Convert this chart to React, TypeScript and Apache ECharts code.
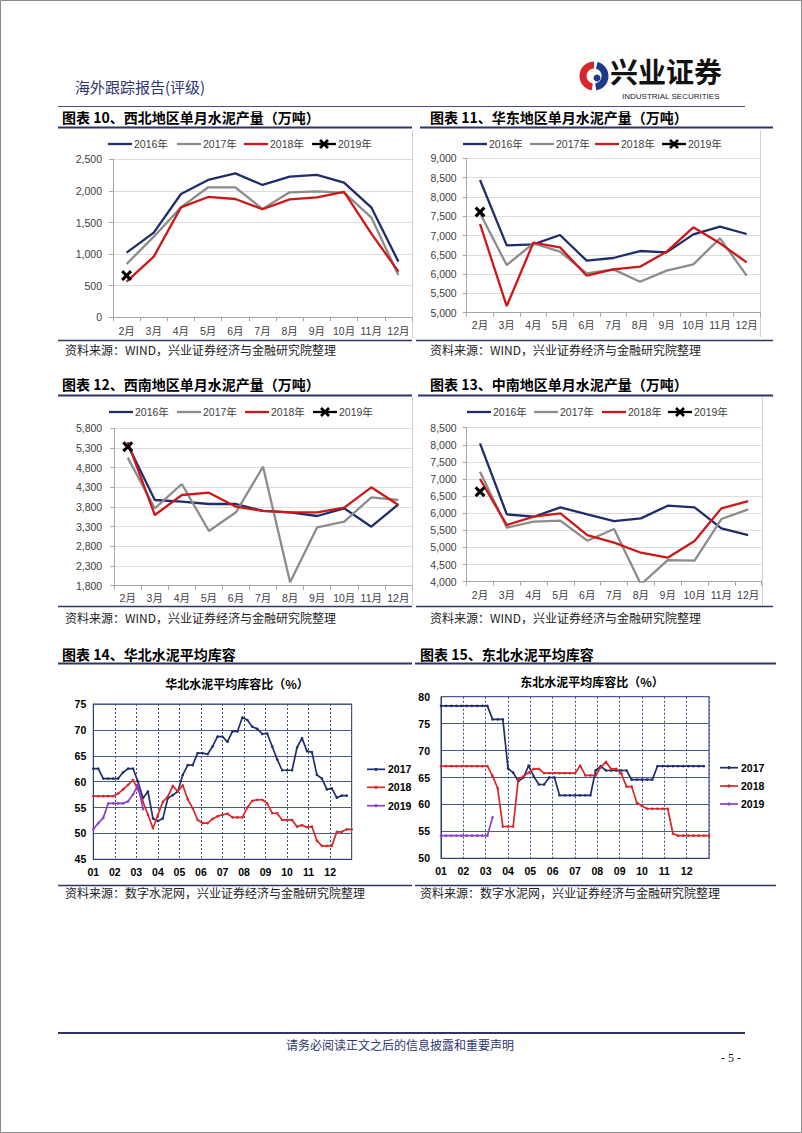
import React, { useEffect, useRef } from "react";
import * as echarts from "echarts";

// ---------- DATA ----------
const months = ["2月", "3月", "4月", "5月", "6月", "7月", "8月", "9月", "10月", "11月", "12月"];
const yearNames = ["2016年", "2017年", "2018年", "2019年"];

// 图表10 西北
const nw2016 = [1023, 1340, 1951, 2173, 2278, 2094, 2226, 2252, 2131, 1740, 881];
const nw2017 = [844, 1276, 1740, 2057, 2057, 1714, 1978, 1994, 1973, 1582, 670];
const nw2018 = [564, 960, 1740, 1904, 1872, 1709, 1867, 1899, 1983, 1329, 723];
const nw2019 = [660];

// 图表11 华东
const ec2016 = [8438, 6745, 6771, 7013, 6348, 6417, 6598, 6564, 7030, 7229, 7039];
const ec2017 = [7575, 6235, 6797, 6581, 6019, 6123, 5803, 6089, 6253, 6927, 5959];
const ec2018 = [7298, 5173, 6814, 6693, 5959, 6123, 6192, 6581, 7212, 6797, 6305];
const ec2019 = [7610];

// 图表12 西南
const sw2016 = [5380, 3978, 3935, 3876, 3876, 3700, 3665, 3571, 3766, 3300, 3868];
const sw2017 = [5054, 3766, 4385, 3190, 3665, 4825, 1885, 3283, 3427, 4046, 3978];
const sw2018 = [5450, 3597, 4105, 4164, 3808, 3700, 3665, 3665, 3783, 4300, 3850];
const sw2019 = [5330];

// 图表13 中南
const cs2016 = [8042, 5967, 5899, 6172, 5967, 5773, 5851, 6221, 6172, 5558, 5364];
const cs2017 = [7214, 5578, 5753, 5782, 5198, 5539, 3920, 4633, 4614, 5831, 6114];
const cs2018 = [7000, 5656, 5899, 5997, 5364, 5140, 4847, 4701, 5188, 6143, 6357];
const cs2019 = [6630];

// 图表14 华北 weekly inventory ratio (%)
const monthTicks = ["01", "02", "03", "04", "05", "06", "07", "08", "09", "10", "11", "12"];
const pctNames = ["2017", "2018", "2019"];
const WEEKS = 52;
const nc2017 = [
  62.5, 62.5, 60.6, 60.6, 60.6, 60.6, 61.8, 62.5, 62.5, 60.0,
  56.8, 58.1, 52.9, 52.4, 52.9, 56.8, 57.4, 58.1, 61.3, 63.2,
  63.2, 65.5, 65.5, 65.3, 66.8, 68.7, 68.7, 67.7, 69.7, 69.7,
  72.4, 71.9, 70.6, 70.2, 69.2, 69.3, 66.8, 64.3, 62.2, 62.2,
  62.2, 66.6, 68.4, 65.9, 65.7, 61.3, 60.6, 58.5, 58.7, 56.9,
  57.3, 57.3,
];
const nc2018 = [
  57.2, 57.2, 57.2, 57.2, 57.2, 57.7, 58.5, 59.4, 60.3, 58.5,
  56.1, 53.6, 51.0, 53.6, 56.1, 57.1, 59.2, 58.1, 59.3, 56.6,
  54.9, 52.6, 52.0, 52.0, 52.8, 53.3, 53.6, 53.8, 53.1, 53.1,
  53.1, 55.0, 56.3, 56.5, 56.5, 55.8, 53.9, 53.9, 52.6, 52.6,
  52.6, 51.3, 51.6, 51.2, 51.3, 48.6, 47.6, 47.6, 47.6, 50.3,
  50.3, 50.8, 50.8,
];
const nc2019 = [50.8, 52.0, 53.0, 55.8, 55.8, 55.8, 55.8, 56.2, 57.5, 59.4, 54.7];

// 图表15 东北 weekly inventory ratio (%)
const ne2017 = [
  78.3, 78.3, 78.3, 78.3, 78.3, 78.3, 78.3, 78.3, 78.3, 78.3,
  75.8, 75.8, 75.8, 66.7, 65.9, 64.3, 65.0, 67.2, 65.2, 63.7,
  63.7, 65.0, 65.0, 61.7, 61.7, 61.7, 61.7, 61.7, 61.7, 61.7,
  66.3, 67.1, 66.3, 66.3, 66.3, 66.3, 66.3, 64.6, 64.6, 64.6,
  64.6, 64.6, 67.1, 67.1, 67.1, 67.1, 67.1, 67.1, 67.1, 67.1,
  67.1, 67.1,
];
const ne2018 = [
  67.1, 67.1, 67.1, 67.1, 67.1, 67.1, 67.1, 67.1, 67.1, 67.1,
  65.3, 63.0, 55.9, 55.9, 55.9, 64.7, 65.2, 65.9, 66.6, 66.6,
  65.8, 65.8, 65.8, 65.8, 65.8, 65.8, 65.8, 67.2, 65.4, 65.4,
  65.4, 66.9, 67.9, 66.6, 66.6, 65.7, 63.3, 63.3, 60.3, 59.7,
  59.2, 59.2, 59.2, 59.2, 59.2, 54.6, 54.2, 54.2, 54.2, 54.2,
  54.2, 54.2, 54.2,
];
const ne2019 = [54.2, 54.2, 54.2, 54.2, 54.2, 54.2, 54.2, 54.2, 54.2, 54.2, 57.6];

// ---------- STYLE ----------
const SANS = '"Liberation Sans", Arial, "Noto Sans CJK SC", sans-serif';
const CJK = '"Noto Sans CJK SC", "Noto Sans CJK JP", sans-serif';
const NAVY = "#2e3566";
const YEAR_COLORS = ["#1f2d6b", "#8c8c8c", "#cc1818", "#000000"];
const PCT_COLORS = ["#1f2f6e", "#d92626", "#8b3fcf"];
const XPATH = "path://M0,2 L2,0 L5,3 L8,0 L10,2 L7,5 L10,8 L8,10 L5,7 L2,10 L0,8 L3,5 Z";

function catX(gi: number, margin: number) {
  return {
    type: "category",
    gridIndex: gi,
    data: months,
    boundaryGap: true,
    axisLine: { show: true, lineStyle: { color: "#a6a6a6", width: 1 } },
    axisTick: { show: true, length: 4, lineStyle: { color: "#a6a6a6" } },
    axisLabel: { interval: 0, color: "#404040", fontSize: 10.5, fontFamily: SANS, margin },
    splitLine: { show: false },
  };
}

function valY(gi: number, min: number, max: number, interval: number, margin: number) {
  return {
    type: "value",
    gridIndex: gi,
    min,
    max,
    interval,
    axisLine: { show: true, lineStyle: { color: "#a6a6a6", width: 1 } },
    axisTick: { show: true, length: 4, lineStyle: { color: "#a6a6a6" } },
    splitLine: { show: true, lineStyle: { color: "#dcdcdc", width: 1 } },
    axisLabel: {
      color: "#404040",
      fontSize: 10.5,
      fontFamily: SANS,
      margin,
      formatter: (v: number) => v.toLocaleString("en-US"),
    },
  };
}

function yearSeries(gi: number, sets: number[][]) {
  const out: any[] = [];
  for (let k = 0; k < 3; k++) {
    out.push({
      type: "line",
      name: yearNames[k],
      xAxisIndex: gi,
      yAxisIndex: gi,
      data: sets[k],
      symbol: "none",
      lineStyle: { color: YEAR_COLORS[k], width: 2.3 },
      itemStyle: { color: YEAR_COLORS[k] },
      z: 2 + k,
    });
  }
  out.push({
    type: "line",
    name: yearNames[3],
    xAxisIndex: gi,
    yAxisIndex: gi,
    data: sets[3],
    symbol: XPATH,
    symbolSize: 11,
    lineStyle: { color: "#000", width: 2.3 },
    itemStyle: { color: "#000" },
    z: 6,
  });
  return out;
}

function weekX(gi: number, margin: number) {
  return {
    type: "value",
    gridIndex: gi,
    min: 0,
    max: 12,
    interval: 1,
    axisLine: { show: true, lineStyle: { color: "#2b3a7a", width: 1 } },
    axisTick: { show: false },
    splitLine: { show: true, lineStyle: { color: "#3a4a88", type: [2, 2], width: 1 } },
    axisLabel: {
      color: "#000",
      fontSize: 10.5,
      fontWeight: "bold",
      fontFamily: SANS,
      margin,
      formatter: (v: number) => monthTicks[Math.round(v)] ?? "",
    },
  };
}

function pctY(gi: number, min: number, max: number, margin: number) {
  return {
    type: "value",
    gridIndex: gi,
    min,
    max,
    interval: 5,
    axisLine: { show: true, lineStyle: { color: "#2b3a7a", width: 1 } },
    axisTick: { show: false },
    splitLine: { show: true, lineStyle: { color: "#4b5a90", width: 1 } },
    axisLabel: { color: "#000", fontSize: 10.5, fontWeight: "bold", fontFamily: SANS, margin },
  };
}

function weekSeries(gi: number, k: number, vals: number[]) {
  const color = PCT_COLORS[k];
  return {
    type: "line",
    name: pctNames[k],
    xAxisIndex: gi,
    yAxisIndex: gi,
    data: vals.map((v, i) => [(i * 12) / WEEKS, v]),
    symbol: "circle",
    symbolSize: 2.6,
    lineStyle: { color, width: 1.7 },
    itemStyle: { color },
    z: 3 + k,
  };
}

// ---------- graphic helpers ----------
function txt(text: string, x: number, y: number, font: string, fill = "#000", align = "left") {
  return {
    type: "text",
    x,
    y,
    silent: true,
    style: {
      text,
      font,
      fill,
      textAlign: align,
      textVerticalAlign: "middle",
      align,
      verticalAlign: "middle",
    },
  };
}
function ln(x1: number, y1: number, x2: number, y2: number, stroke: string, w: number) {
  return { type: "line", silent: true, shape: { x1, y1, x2, y2 }, style: { stroke, lineWidth: w } };
}

function yearLegend(xs: number[], y: number) {
  const els: any[] = [];
  xs.forEach((x, k) => {
    els.push(ln(x, y, x + 24, y, YEAR_COLORS[k], 2.3));
    if (k === 3) {
      const cx = x + 12;
      els.push(ln(cx - 4, y - 4, cx + 4, y + 4, "#000", 2.6));
      els.push(ln(cx - 4, y + 4, cx + 4, y - 4, "#000", 2.6));
    }
    els.push(txt(yearNames[k], x + 26, y, `10.5px ${SANS}`, "#404040"));
  });
  return els;
}

function pctLegend(x: number, ys: number[]) {
  const els: any[] = [];
  ys.forEach((y, k) => {
    els.push(ln(x, y, x + 18, y, PCT_COLORS[k], 1.7));
    els.push({ type: "circle", silent: true, shape: { cx: x + 9, cy: y, r: 1.6 }, style: { fill: PCT_COLORS[k] } });
    els.push(txt(pctNames[k], x + 21, y, `bold 10.5px ${SANS}`, "#000"));
  });
  return els;
}

function buildGraphic() {
  const titleFont = `bold 14px ${CJK}`;
  const srcFont = `12px ${CJK}`;
  const src1 = "资料来源：WIND，兴业证券经济与金融研究院整理";
  const src2 = "资料来源：数字水泥网，兴业证券经济与金融研究院整理";
  const els: any[] = [
    { type: "rect", silent: true, shape: { x: 0.5, y: 0.5, width: 801, height: 1132 }, style: { fill: "none", stroke: "#8a8a8a", lineWidth: 1 } },
    // header
    txt("海外跟踪报告(评级)", 75, 86, `15px ${CJK}`, "#2b3570"),
    { type: "arc", silent: true, shape: { cx: 594, cy: 76, r: 11, startAngle: Math.PI * 0.55, endAngle: Math.PI * 1.5, clockwise: true }, style: { stroke: "#d7262c", lineWidth: 7, fill: "none" } },
    { type: "arc", silent: true, shape: { cx: 594, cy: 76, r: 11, startAngle: -Math.PI * 0.42, endAngle: Math.PI * 0.45, clockwise: true }, style: { stroke: "#1f3a8a", lineWidth: 7, fill: "none" } },
    { type: "circle", silent: true, shape: { cx: 597, cy: 78, r: 3.5 }, style: { fill: "#1f3a8a" } },
    txt("兴业证券", 610, 71, `bold 28px ${CJK}`, "#111"),
    txt("INDUSTRIAL SECURITIES", 622, 96, `8px "Liberation Sans", Arial, sans-serif`, "#222"),
    ln(58, 106.5, 745, 106.5, "#4a4f7a", 1.2),
    // row 1 titles
    txt("图表 10、西北地区单月水泥产量（万吨）", 62, 117, titleFont),
    txt("图表 11、华东地区单月水泥产量（万吨）", 430, 117, titleFont),
    ln(58, 127.5, 412, 127.5, NAVY, 2),
    ln(420, 127.5, 773, 127.5, NAVY, 2),
    ln(412.5, 130, 412.5, 338, "#d0d0d0", 1),
    ln(760.5, 130, 760.5, 337, "#d0d0d0", 1),
    ln(58, 340.5, 412, 340.5, NAVY, 1.5),
    ln(416, 340.5, 773, 340.5, NAVY, 1.5),
    txt(src1, 65, 349, srcFont, "#222"),
    txt(src1, 430, 349, srcFont, "#222"),
    // row 2
    txt("图表 12、西南地区单月水泥产量（万吨）", 62, 384, titleFont),
    txt("图表 13、中南地区单月水泥产量（万吨）", 430, 384, titleFont),
    ln(58, 395.5, 412, 395.5, NAVY, 2),
    ln(418, 395.5, 773, 395.5, NAVY, 2),
    ln(412.5, 397, 412.5, 605, "#d0d0d0", 1),
    ln(762.5, 397, 762.5, 605, "#d0d0d0", 1),
    ln(58, 606.5, 412, 606.5, NAVY, 1.5),
    ln(416, 606.5, 773, 606.5, NAVY, 1.5),
    txt(src1, 65, 617, srcFont, "#222"),
    txt(src1, 430, 617, srcFont, "#222"),
    // row 3
    txt("图表 14、华北水泥平均库容", 62, 654, titleFont),
    txt("图表 15、东北水泥平均库容", 420, 654, titleFont),
    ln(58, 663.5, 412, 663.5, NAVY, 2),
    ln(415, 663.5, 776, 663.5, NAVY, 2),
    txt("华北水泥平均库容比（%）", 237, 683, `bold 12px ${CJK}`, "#000", "center"),
    txt("东北水泥平均库容比（%）", 592, 681, `bold 12px ${CJK}`, "#000", "center"),
    ln(58, 885.5, 412, 885.5, NAVY, 1.5),
    ln(415, 885.5, 776, 885.5, NAVY, 1.5),
    txt(src2, 65, 892, srcFont, "#222"),
    txt(src2, 420, 892, srcFont, "#222"),
    // footer
    ln(58, 1033, 745, 1033, NAVY, 2),
    txt("请务必阅读正文之后的信息披露和重要声明", 400, 1044, `12px ${CJK}`, "#2b3570", "center"),
    txt("- 5 -", 731, 1058, `12px "Liberation Serif", serif`, "#222", "center"),
    // legends
    ...yearLegend([108, 177, 244, 312], 144),
    ...yearLegend([463, 530, 595, 662], 144),
    ...yearLegend([109, 177, 245, 313], 412),
    ...yearLegend([467, 534, 602, 668], 412),
    ...pctLegend(367, [769.3, 787.3, 805.7]),
    ...pctLegend(720, [767.7, 786, 804]),
  ];
  return els;
}

function buildOption() {
  return {
    animation: false,
    backgroundColor: "#fff",
    grid: [
      { left: 113, top: 159.3, width: 299, height: 158, containLabel: false },
      { left: 466.7, top: 158.3, width: 293.3, height: 154.4, containLabel: false },
      { left: 114.2, top: 428.3, width: 297.7, height: 157.4, containLabel: false },
      { left: 466.6, top: 427.7, width: 295, height: 154, containLabel: false },
      { left: 93.3, top: 704, width: 258.4, height: 155.3, show: true, borderColor: "#2b3a7a", borderWidth: 1, backgroundColor: "transparent" },
      { left: 441, top: 696.7, width: 268, height: 161.6, show: true, borderColor: "#2b3a7a", borderWidth: 1, backgroundColor: "transparent" },
    ],
    xAxis: [catX(0, 8), catX(1, 7), catX(2, 7), catX(3, 8), weekX(4, 7), weekX(5, 7)],
    yAxis: [
      valY(0, 0, 2500, 500, 11),
      valY(1, 5000, 9000, 500, 10),
      valY(2, 1800, 5800, 500, 12),
      valY(3, 4000, 8500, 500, 10),
      pctY(4, 45, 75, 7),
      pctY(5, 50, 80, 11),
    ],
    series: [
      ...yearSeries(0, [nw2016, nw2017, nw2018, nw2019]),
      ...yearSeries(1, [ec2016, ec2017, ec2018, ec2019]),
      ...yearSeries(2, [sw2016, sw2017, sw2018, sw2019]),
      ...yearSeries(3, [cs2016, cs2017, cs2018, cs2019]),
      weekSeries(4, 0, nc2017),
      weekSeries(4, 1, nc2018),
      weekSeries(4, 2, nc2019),
      weekSeries(5, 0, ne2017),
      weekSeries(5, 1, ne2018),
      weekSeries(5, 2, ne2019),
    ],
    graphic: { elements: buildGraphic() },
  };
}

export default function App() {
  const ref = useRef<HTMLDivElement>(null);
  useEffect(() => {
    if (!ref.current) return;
    const chart = echarts.init(ref.current, null, { renderer: "svg" });
    chart.setOption(buildOption() as any);
    return () => chart.dispose();
  }, []);
  return (
    <div
      ref={ref}
      style={{ position: "absolute", left: 0, top: 0, width: 802, height: 1133, background: "#fff" }}
    />
  );
}
